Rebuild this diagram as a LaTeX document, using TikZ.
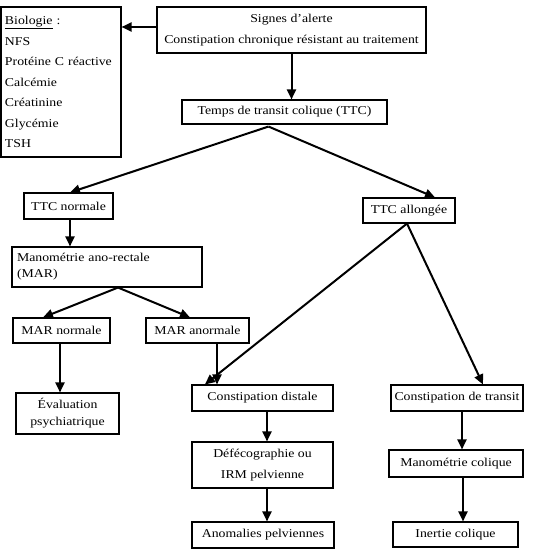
\documentclass[tikz,border=0pt]{standalone}
\usepackage{fontspec}
\setmainfont{Liberation Serif}[FakeStretch=1.15]
\usetikzlibrary{arrows.meta}
\begin{document}
\begin{tikzpicture}[x=1pt,y=-1pt,
  box/.style={draw, line width=1.1pt, inner sep=0pt, font=\fontsize{12}{20.5}\selectfont},
  arr/.style={line width=2pt, -{Triangle[length=10pt,width=9pt]}}]
\useasboundingbox[fill=white] (0,0) rectangle (536,553);
\node[box, minimum width=120, minimum height=150, text width=112, align=left] (bio) at (61,82)
  {\underline{Biologie} :\\NFS\\Protéine C réactive\\Calcémie\\Créatinine\\Glycémie\\TSH};
\node[box, minimum width=269, minimum height=46, align=center] (sig) at (291.5,30)
  {Signes d'alerte\\Constipation chronique résistant au traitement};
\node[box, minimum width=205, minimum height=24] (ttc) at (284.5,112) {Temps de transit colique (TTC)};
\node[box, minimum width=89, minimum height=26] (ttcn) at (68.5,206) {TTC normale};
\node[box, minimum width=92, minimum height=25] (ttca) at (409,210.5) {TTC allongée};
\node[box, minimum width=190, minimum height=40, text width=180, align=left, font=\fontsize{12}{16}\selectfont] (mar) at (107,267)
  {Manométrie ano-rectale\\(MAR)};
\node[box, minimum width=97, minimum height=25] (marn) at (61.5,330.5) {MAR normale};
\node[box, minimum width=103, minimum height=25] (mara) at (197.5,330.5) {MAR anormale};
\node[box, minimum width=103, minimum height=41, align=center, font=\fontsize{12}{17}\selectfont] (eval) at (67.5,413.5)
  {Évaluation\\psychiatrique};
\node[box, minimum width=141, minimum height=26] (cd) at (262.5,398) {Constipation distale};
\node[box, minimum width=141, minimum height=46, align=center, font=\fontsize{12}{21}\selectfont] (def) at (262.5,465)
  {Défécographie ou\\IRM pelvienne};
\node[box, minimum width=142, minimum height=26] (anom) at (263,535) {Anomalies pelviennes};
\node[box, minimum width=132, minimum height=26] (ct) at (457,398) {Constipation de transit};
\node[box, minimum width=134, minimum height=27] (mc) at (456,463.5) {Manométrie colique};
\node[box, minimum width=125, minimum height=25] (ic) at (455.5,534.5) {Inertie colique};

\draw[arr] ([yshift=3pt]sig.west) -- ([yshift=3pt]sig.west -| bio.east);
\draw[arr] (sig.south) -- (sig.south |- ttc.north);
\draw[arr] ([xshift=-16pt,yshift=-2pt]ttc.south) -- ([xshift=1.5pt]ttcn.north);
\draw[arr] ([xshift=-16pt,yshift=-2pt]ttc.south) -- ([xshift=26pt]ttca.north);
\draw[arr] ([xshift=1.5pt]ttcn.south) -- ([xshift=1.5pt]ttcn.south |- mar.north);
\draw[arr] ([xshift=11pt]mar.south) -- ([xshift=-18.5pt]marn.north);
\draw[arr] ([xshift=11pt]mar.south) -- ([xshift=-7.5pt]mara.north);
\draw[arr] ([xshift=-1.5pt]marn.south) -- ([xshift=-1.5pt]marn.south |- eval.north);
\draw[arr] ([xshift=19.5pt]mara.south) -- ([xshift=19.5pt]mara.south |- cd.north);
\draw[arr] ([xshift=-2pt]ttca.south) -- ([xshift=13.5pt]cd.north west);
\draw[arr] ([xshift=-2pt]ttca.south) -- ([xshift=26pt]ct.north);
\draw[arr] ([xshift=4.5pt]cd.south) -- ([xshift=4.5pt]cd.south |- def.north);
\draw[arr] ([xshift=4.5pt]def.south) -- ([xshift=4.5pt]def.south |- anom.north);
\draw[arr] ([xshift=5pt]ct.south) -- ([xshift=5pt]ct.south |- mc.north);
\draw[arr] ([xshift=7pt]mc.south) -- ([xshift=7pt]mc.south |- ic.north);
\end{tikzpicture}
\end{document}
